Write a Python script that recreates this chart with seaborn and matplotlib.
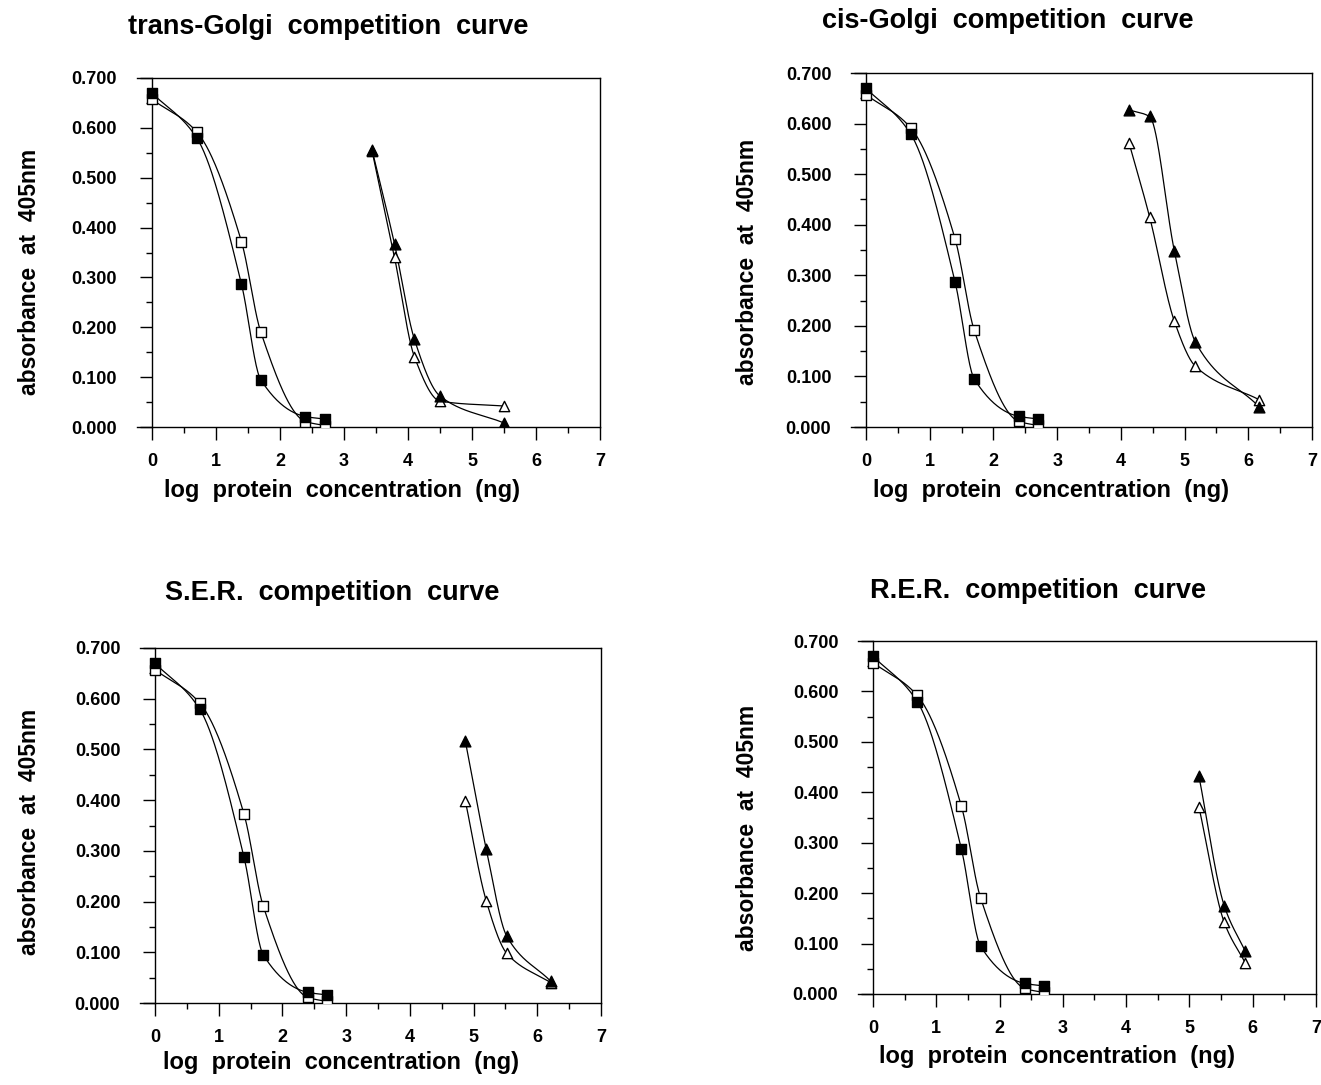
import numpy as np
import matplotlib
matplotlib.use("Agg")
import matplotlib.pyplot as plt
import seaborn as sns
from matplotlib.ticker import MultipleLocator, FormatStrFormatter

# === Data ===
# purified standard, same in every panel (log ng)
std_x = [0.0, 0.699, 1.398, 1.699, 2.398, 2.699]
std_filled = [0.670, 0.580, 0.287, 0.095, 0.021, 0.016]
std_open = [0.657, 0.592, 0.372, 0.191, 0.011, 0.003]

# membrane fractions
tgolgi_x = [3.44, 3.79, 4.10, 4.50, 5.50]
tgolgi_filled = [0.555, 0.367, 0.176, 0.062, 0.008]
tgolgi_open = [0.553, 0.340, 0.141, 0.052, 0.042]

cgolgi_x = [4.13, 4.45, 4.84, 5.17, 6.17]
cgolgi_filled = [0.627, 0.614, 0.348, 0.168, 0.040]
cgolgi_open = [0.561, 0.416, 0.209, 0.120, 0.054]

ser_x = [4.87, 5.20, 5.52, 6.21]
ser_filled = [0.517, 0.303, 0.132, 0.043]
ser_open = [0.399, 0.201, 0.098, 0.040]

rer_x = [5.15, 5.55, 5.88]
rer_filled = [0.432, 0.175, 0.085]
rer_open = [0.371, 0.142, 0.062]

titles = ["trans-Golgi  competition  curve", "cis-Golgi  competition  curve",
          "S.E.R.  competition  curve", "R.E.R.  competition  curve"]
xlab = "log  protein  concentration  (ng)"
ylab = "absorbance  at  405nm"


def smooth(x, y, n=200):
    # monotone cubic (PCHIP) curve through the points
    x = np.asarray(x, float)
    y = np.asarray(y, float)
    h = np.diff(x)
    d = np.diff(y) / h
    m = np.zeros_like(y)
    for k in range(1, len(x) - 1):
        if d[k - 1] * d[k] > 0:
            w1 = 2 * h[k] + h[k - 1]
            w2 = h[k] + 2 * h[k - 1]
            m[k] = (w1 + w2) / (w1 / d[k - 1] + w2 / d[k])
    m[0] = d[0]
    m[-1] = d[-1]
    xs = np.linspace(x[0], x[-1], n)
    idx = np.clip(np.searchsorted(x, xs) - 1, 0, len(x) - 2)
    t = (xs - x[idx]) / h[idx]
    h00 = 2 * t**3 - 3 * t**2 + 1
    h10 = t**3 - 2 * t**2 + t
    h01 = -2 * t**3 + 3 * t**2
    h11 = t**3 - t**2
    ys = h00 * y[idx] + h10 * h[idx] * m[idx] + h01 * y[idx + 1] + h11 * h[idx] * m[idx + 1]
    return xs, ys


sns.set_style("ticks")
plt.rcParams['font.family'] = ['Liberation Sans', 'DejaVu Sans']
plt.rcParams['font.weight'] = 'bold'
plt.rcParams['text.color'] = 'black'
plt.rcParams['xtick.color'] = 'black'
plt.rcParams['ytick.color'] = 'black'
plt.rcParams['axes.edgecolor'] = 'black'

W, H = 1321, 1085
fig = plt.figure(figsize=(W / 100, H / 100), dpi=100)

# axes boxes in pixels: left, top, right, bottom
boxes = [(136.6, 78, 600, 427), (850.7, 73, 1312, 427),
         (139.7, 648, 601, 1003), (857.8, 641, 1316, 994)]
fractions = [(tgolgi_x, tgolgi_filled, tgolgi_open),
             (cgolgi_x, cgolgi_filled, cgolgi_open),
             (ser_x, ser_filled, ser_open),
             (rer_x, rer_filled, rer_open)]
title_pos = [(328, 27), (1008, 21), (332, 593), (1038, 591)]
xlab_pos = [(342, 490), (1051, 490), (341, 1063), (1057, 1057)]
ylab_pos = [(30, 272), (748, 262), (30, 832), (748, 828)]

for i in range(4):
    l, t, r, b = boxes[i]
    ax = fig.add_axes([l / W, 1 - b / H, (r - l) / W, (b - t) / H])
    fx, ffill, fopen = fractions[i]

    for xx, yy in [(std_x, std_filled), (std_x, std_open), (fx, ffill), (fx, fopen)]:
        cx, cy = smooth(xx, yy)
        sns.lineplot(x=cx, y=cy, ax=ax, color='black', linewidth=0.9,
                     sort=False, estimator=None)

    sns.scatterplot(x=std_x, y=std_open, ax=ax, marker='s', color='white',
                    edgecolor='black', linewidth=1.0, s=50, zorder=3)
    sns.scatterplot(x=std_x, y=std_filled, ax=ax, marker='s', color='black',
                    edgecolor='black', linewidth=1.0, s=55, zorder=4)
    sns.scatterplot(x=fx, y=fopen, ax=ax, marker='^', color='white',
                    edgecolor='black', linewidth=1.0, s=55, zorder=3)
    sns.scatterplot(x=fx, y=ffill, ax=ax, marker='^', color='black',
                    edgecolor='black', linewidth=1.0, s=60, zorder=4)

    ax.set_xlim(-0.24, 7.0)
    ax.set_ylim(0, 0.7)
    ax.spines['left'].set_position(('data', 0))
    for sp in ax.spines.values():
        sp.set_linewidth(1.0)
        sp.set_color('black')
    ax.xaxis.set_major_locator(MultipleLocator(1))
    ax.xaxis.set_minor_locator(MultipleLocator(0.5))
    ax.yaxis.set_major_locator(MultipleLocator(0.1))
    ax.yaxis.set_minor_locator(MultipleLocator(0.05))
    ax.yaxis.set_major_formatter(FormatStrFormatter('%.3f'))
    ax.tick_params(axis='x', which='major', direction='out', length=9, width=1,
                   pad=10, labelsize=13)
    ax.tick_params(axis='y', which='major', direction='out', length=9, width=1,
                   pad=16, labelsize=13)
    ax.tick_params(which='minor', direction='out', length=4, width=1)
    for lbl in ax.get_xticklabels() + ax.get_yticklabels():
        lbl.set_fontweight('bold')
    ax.set_xlabel("")
    ax.set_ylabel("")

    fig.text(title_pos[i][0] / W, 1 - title_pos[i][1] / H, titles[i],
             ha='center', va='center', fontsize=19.5, fontweight='bold')
    fig.text(xlab_pos[i][0] / W, 1 - xlab_pos[i][1] / H, xlab,
             ha='center', va='center', fontsize=17, fontweight='bold')
    fig.text(ylab_pos[i][0] / W, 1 - ylab_pos[i][1] / H, ylab, rotation=90,
             ha='center', va='center', fontsize=16.5, fontweight='bold')

fig.savefig("out.png", dpi=100)
